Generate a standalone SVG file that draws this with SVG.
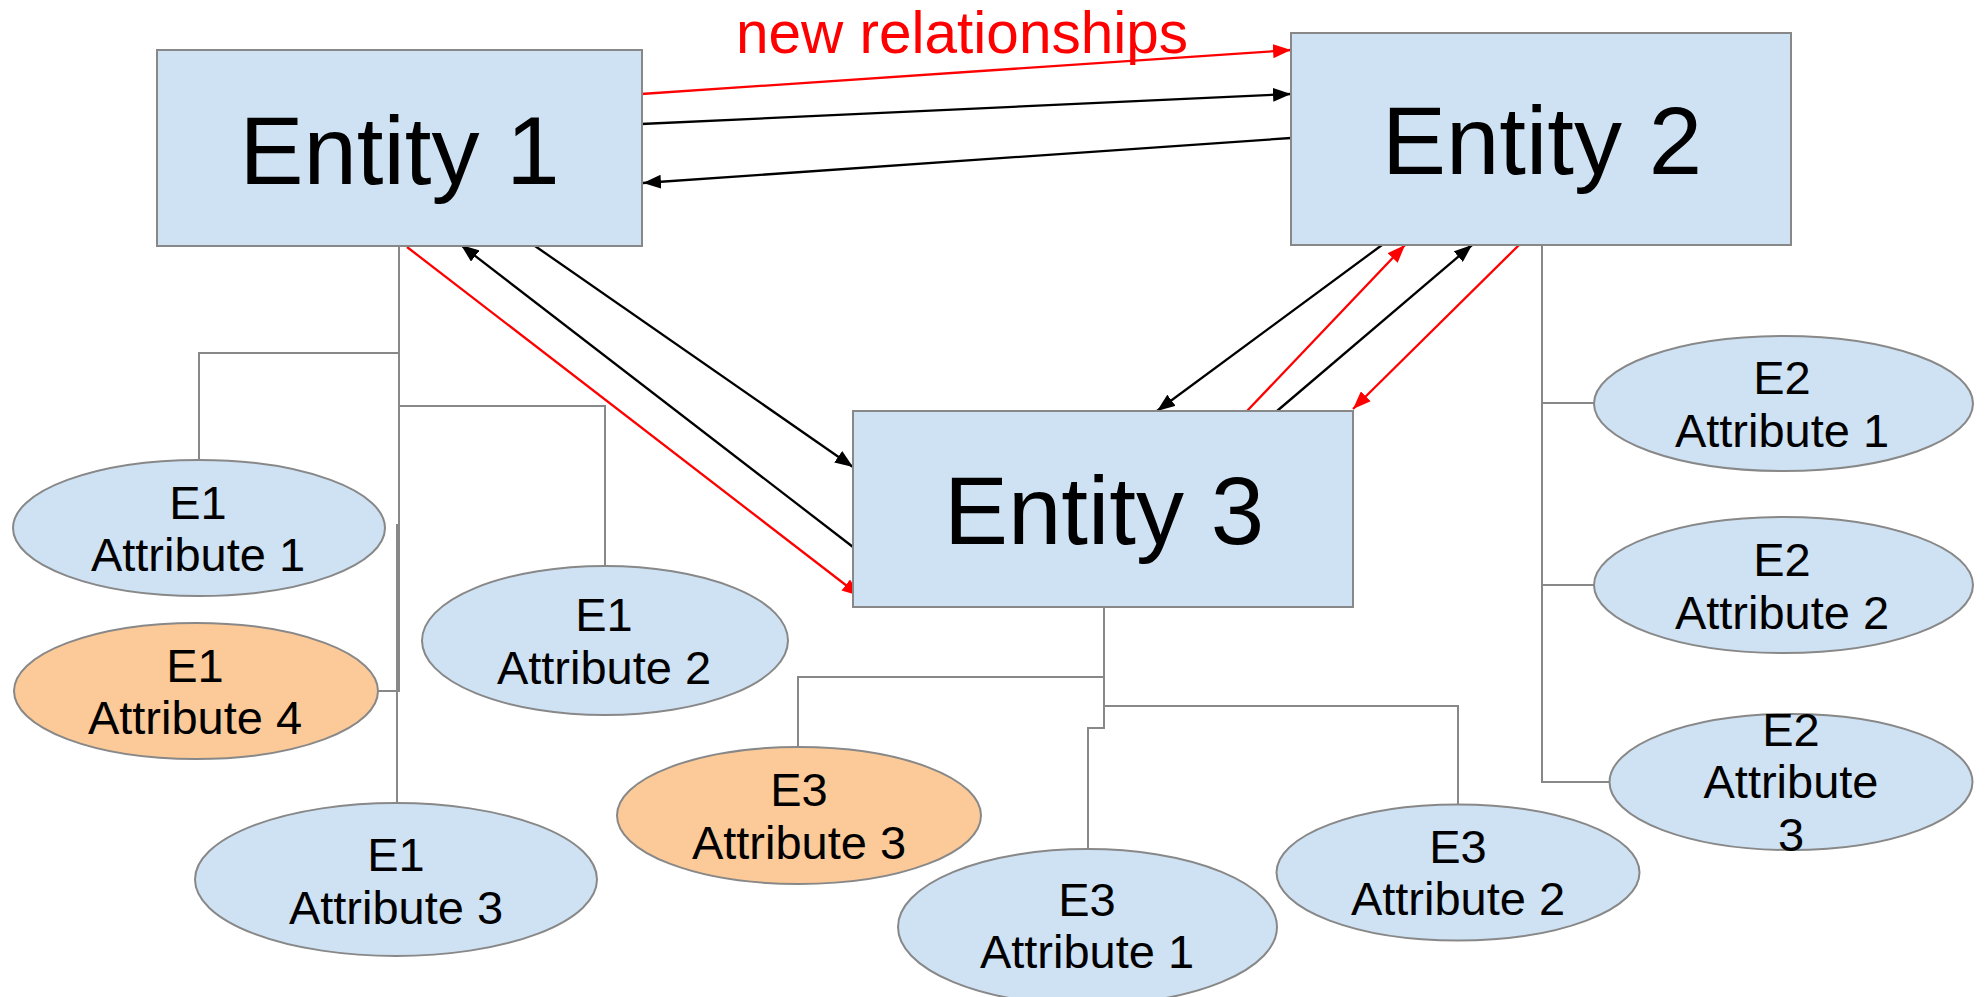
<svg xmlns="http://www.w3.org/2000/svg" width="1985" height="997" viewBox="0 0 1985 997">
  <style>
    .entity { fill: #cfe2f3; stroke: #888888; stroke-width: 2; }
    .attr { fill: #cfe2f3; stroke: #888888; stroke-width: 2; }
    .attr-new { fill: #fcca99; stroke: #888888; stroke-width: 2; }
    .link { fill: none; stroke: #888888; stroke-width: 2; }
    .rel { fill: none; stroke: #000000; stroke-width: 2.3; marker-end: url(#head-black); }
    .rel-new { fill: none; stroke: #ff0000; stroke-width: 2.3; marker-end: url(#head-red); }
    .ent-label { font-family: "Liberation Sans", Arial, sans-serif; font-size: 96px; fill: #000000; text-anchor: middle; }
    .attr-label { font-family: "Liberation Sans", Arial, sans-serif; font-size: 47px; fill: #000000; text-anchor: middle; }
    .note { font-family: "Liberation Sans", Arial, sans-serif; font-size: 58.5px; fill: #ff0000; }
  </style>
  <defs>
    <marker id="head-black" markerUnits="userSpaceOnUse" markerWidth="18" markerHeight="14" refX="18" refY="7" orient="auto">
      <path d="M0,0 L18,7 L0,14 z" fill="#000000"/>
    </marker>
    <marker id="head-red" markerUnits="userSpaceOnUse" markerWidth="18" markerHeight="14" refX="18" refY="7" orient="auto">
      <path d="M0,0 L18,7 L0,14 z" fill="#ff0000"/>
    </marker>
  </defs>

  <rect width="1985" height="997" fill="#ffffff"/>

  <text id="label-new-relationships" class="note" x="736" y="53">new relationships</text>

  <g id="connectors">
    <!-- attribute links, entity 1 -->
    <path class="link" d="M399,246 V691 H378"/>
    <path class="link" d="M399,353 H199 V460"/>
    <path class="link" d="M399,406 H605 V566"/>
    <path class="link" d="M399,525 H397 V803"/>
    <!-- attribute links, entity 3 -->
    <path class="link" d="M1104,607 V728 H1088 V849"/>
    <path class="link" d="M1104,677 H798 V747"/>
    <path class="link" d="M1104,706 H1458 V804"/>
    <!-- attribute links, entity 2 -->
    <path class="link" d="M1542,245 V782 H1610"/>
    <path class="link" d="M1542,403 H1594"/>
    <path class="link" d="M1542,585 H1594"/>

    <!-- relationships between entities -->
    <path class="rel-new" d="M641,94 L1291,50"/>
    <path class="rel" d="M641,124 L1291,94"/>
    <path class="rel" d="M1291,138 L643,183"/>
    <path class="rel-new" d="M407,247 L860,596"/>
    <path class="rel" d="M853,547 L461,245"/>
    <path class="rel" d="M535,246 L853,467"/>
    <path class="rel" d="M1382,245 L1157,411"/>
    <path class="rel-new" d="M1247,411 L1405,245"/>
    <path class="rel" d="M1277,411 L1472,245"/>
    <path class="rel-new" d="M1519,245 L1353,409"/>
  </g>

  <g id="entity-1">
    <rect class="entity" x="157" y="50" width="485" height="196"/>
    <text class="ent-label" x="399.5" y="184">Entity 1</text>
  </g>
  <g id="entity-2">
    <rect class="entity" x="1291" y="33" width="500" height="212"/>
    <text class="ent-label" x="1542" y="174">Entity 2</text>
  </g>
  <g id="entity-3">
    <rect class="entity" x="853" y="411" width="500" height="196"/>
    <text class="ent-label" x="1104" y="544">Entity 3</text>
  </g>

  <g id="e1-attribute-1">
    <ellipse class="attr" cx="199" cy="528" rx="186" ry="68"/>
    <text class="attr-label" x="198" y="519">E1</text>
    <text class="attr-label" x="198" y="571">Attribute 1</text>
  </g>
  <g id="e1-attribute-4">
    <ellipse class="attr-new" cx="196" cy="691" rx="182" ry="68"/>
    <text class="attr-label" x="195" y="682">E1</text>
    <text class="attr-label" x="195" y="734">Attribute 4</text>
  </g>
  <g id="e1-attribute-2">
    <ellipse class="attr" cx="605" cy="640.5" rx="183" ry="74.5"/>
    <text class="attr-label" x="604" y="631">E1</text>
    <text class="attr-label" x="604" y="684">Attribute 2</text>
  </g>
  <g id="e1-attribute-3">
    <ellipse class="attr" cx="396" cy="879.5" rx="201" ry="76.5"/>
    <text class="attr-label" x="396" y="871">E1</text>
    <text class="attr-label" x="396" y="924">Attribute 3</text>
  </g>

  <g id="e3-attribute-3">
    <ellipse class="attr-new" cx="799" cy="815.5" rx="182" ry="68.5"/>
    <text class="attr-label" x="799" y="806">E3</text>
    <text class="attr-label" x="799" y="859">Attribute 3</text>
  </g>
  <g id="e3-attribute-1">
    <ellipse class="attr" cx="1087.5" cy="927" rx="189.5" ry="78"/>
    <text class="attr-label" x="1087" y="916">E3</text>
    <text class="attr-label" x="1087" y="968">Attribute 1</text>
  </g>
  <g id="e3-attribute-2">
    <ellipse class="attr" cx="1458" cy="872.5" rx="181.5" ry="68"/>
    <text class="attr-label" x="1458" y="863">E3</text>
    <text class="attr-label" x="1458" y="915">Attribute 2</text>
  </g>

  <g id="e2-attribute-1">
    <ellipse class="attr" cx="1783.5" cy="403.5" rx="189.5" ry="67.5"/>
    <text class="attr-label" x="1782" y="394">E2</text>
    <text class="attr-label" x="1782" y="447">Attribute 1</text>
  </g>
  <g id="e2-attribute-2">
    <ellipse class="attr" cx="1783.5" cy="585" rx="189.5" ry="68"/>
    <text class="attr-label" x="1782" y="576">E2</text>
    <text class="attr-label" x="1782" y="629">Attribute 2</text>
  </g>
  <g id="e2-attribute-3">
    <ellipse class="attr" cx="1791" cy="782" rx="181.5" ry="68"/>
    <text class="attr-label" x="1791" y="746">E2</text>
    <text class="attr-label" x="1791" y="798">Attribute</text>
    <text class="attr-label" x="1791" y="851">3</text>
  </g>
</svg>
